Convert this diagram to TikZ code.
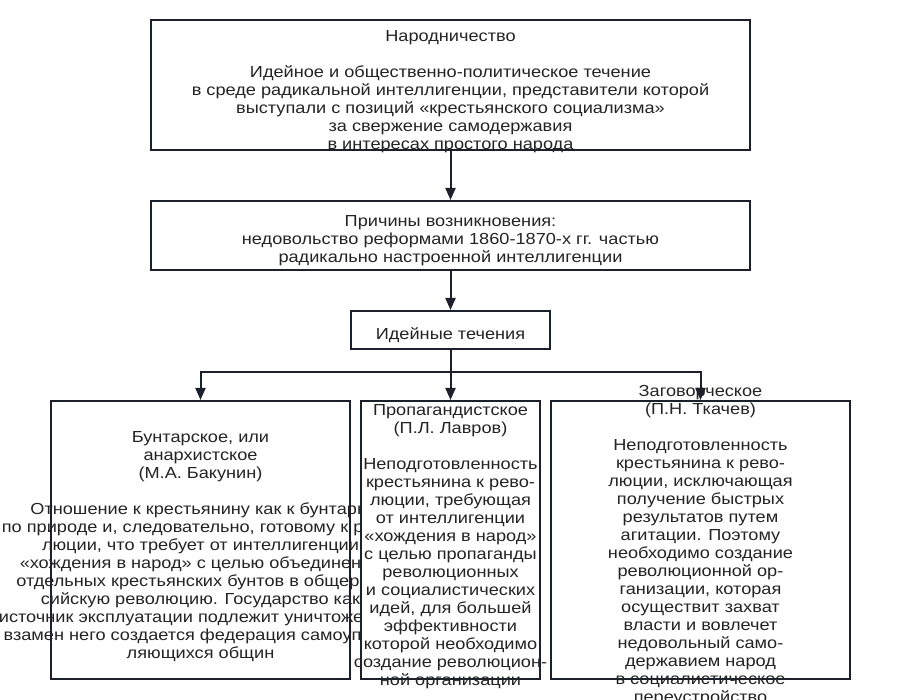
\documentclass[tikz,border=0pt]{standalone}
\usepackage{fontspec}
\setmainfont{Liberation Sans}[FakeStretch=1.135]
\usetikzlibrary{arrows.meta}
\definecolor{lineC}{RGB}{28,32,44}
\definecolor{textC}{RGB}{36,36,36}
\tikzset{
  box/.style={draw=lineC, line width=2pt, fill=white, inner sep=0pt},
  txt/.style={align=center, inner sep=0pt, text=textC, font=\fontsize{16}{18}\selectfont},
  conn/.style={draw=lineC, line width=2pt, -{Triangle[width=10pt,length=12pt]}},
  seg/.style={draw=lineC, line width=2pt}
}
\begin{document}
\begin{tikzpicture}[x=1pt,y=-1pt]
\useasboundingbox (0,0) rectangle (900,700);
\node[box, minimum width=599pt, minimum height=130pt] (b1) at (450.5,85) {};
\node[txt] (t1) at (450.5,92) {Народничество\\[18pt]Идейное и общественно-политическое течение\\в среде радикальной интеллигенции, представители которой\\выступали с позиций «крестьянского социализма»\\за свержение самодержавия\\в интересах простого народа};
\node[box, minimum width=599pt, minimum height=69pt] (b2) at (450.5,235.5) {};
\node[txt] (t2) at (450.5,241) {Причины возникновения:\\недовольство реформами 1860-1870-х гг. частью\\радикально настроенной интеллигенции};
\node[box, minimum width=199pt, minimum height=38pt] (b3) at (450.5,330) {};
\node[txt] (t3) at (450.5,335) {Идейные течения};
\node[box, minimum width=299pt, minimum height=278pt] (b4) at (200.5,540) {};
\node[txt] (t4) at (200.5,547) {Бунтарское, или\\анархистское\\(М.А. Бакунин)\\[18pt]Отношение к крестьянину как к бунтарю\\по природе и, следовательно, готовому к рево-\\люции, что требует от интеллигенции\\«хождения в народ» с целью объединения\\отдельных крестьянских бунтов в общерос-\\сийскую революцию. Государство как\\источник эксплуатации подлежит уничтожению,\\взамен него создается федерация самоуправ-\\ляющихся общин};
\node[box, minimum width=179pt, minimum height=278pt] (b5) at (450.5,540) {};
\node[txt] (t5) at (450.5,547) {Пропагандистское\\(П.Л. Лавров)\\[18pt]Неподготовленность\\крестьянина к рево-\\люции, требующая\\от интеллигенции\\«хождения в народ»\\с целью пропаганды\\революционных\\и социалистических\\идей, для большей\\эффективности\\которой необходимо\\создание революцион-\\ной организации};
\node[box, minimum width=299pt, minimum height=278pt] (b6) at (700.5,540) {};
\node[txt] (t6) at (700.5,546) {Заговорческое\\(П.Н. Ткачев)\\[18pt]Неподготовленность\\крестьянина к рево-\\люции, исключающая\\получение быстрых\\результатов путем\\агитации. Поэтому\\необходимо создание\\революционной ор-\\ганизации, которая\\осуществит захват\\власти и вовлечет\\недовольный само-\\державием народ\\в социалистическое\\переустройство};
\draw[conn] (b1.south) -- (b2.north);
\draw[conn] (b2.south) -- (b3.north);
\path (b3.south) ++(0,22) coordinate (j);
\draw[seg] (b3.south) -- (j);
\draw[conn] (j) -| (b4.north);
\draw[conn] (j) -| (b6.north);
\draw[conn] (j) -- (b5.north);
\end{tikzpicture}
\end{document}
